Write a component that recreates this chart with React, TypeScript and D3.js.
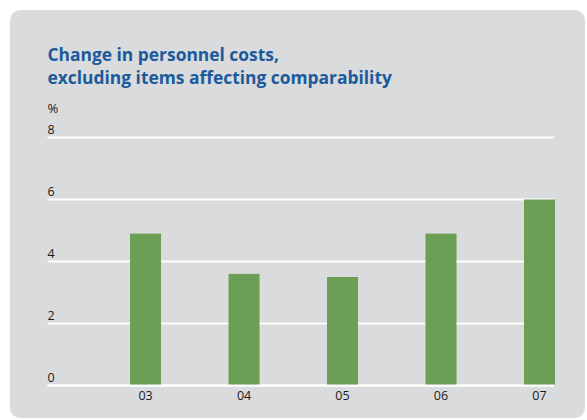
import React from "react";
import * as d3 from "d3";

const categories = ["03", "04", "05", "06", "07"];
const values = [4.9, 3.6, 3.5, 4.9, 6.0];
const yTicks = [0, 2, 4, 6, 8];
const titleLines = ["Change in personnel costs,", "excluding items affecting comparability"];
const unitLabel = "%";

const W = 587;
const H = 420;
const FONT = "'Open Sans', 'DejaVu Sans', sans-serif";

export default function App() {
  const left = 47.5;
  const right = 555;
  const y = d3.scaleLinear().domain([0, 8]).range([385.5, 137.5]);
  const x = d3
    .scaleBand<string>()
    .domain(categories)
    .range([left, right])
    .paddingInner(0.685)
    .paddingOuter(0.419)
    .align(1);

  return (
    <svg
      width={W}
      height={H}
      style={{ position: "absolute", left: 0, top: 0, background: "#fff" }}
    >
      <rect x={10} y={10} width={575} height={408} rx={10} ry={10} fill="#dadbdd" />
      <text fontFamily={FONT} fontWeight={700} fontSize={17.4} fill="#1b5a9c">
        {titleLines.map((t, i) => (
          <tspan key={i} x={47.5} y={61 + i * 22.5}>
            {t}
          </tspan>
        ))}
      </text>
      <text x={47.5} y={112.5} fontFamily={FONT} fontSize={13} fill="#1a1a1a">
        {unitLabel}
      </text>
      {yTicks.map((t) => (
        <g key={t}>
          <line
            x1={left}
            x2={554}
            y1={y(t)}
            y2={y(t)}
            stroke="#ffffff"
            strokeWidth={t === 0 ? 2.5 : 2}
          />
          <text x={47.5} y={y(t) - 4} fontFamily={FONT} fontSize={12.5} fill="#1a1a1a">
            {t}
          </text>
        </g>
      ))}
      {categories.map((c, i) => (
        <rect
          key={c}
          x={x(c)}
          y={y(values[i])}
          width={x.bandwidth()}
          height={y(0) - y(values[i]) - 1}
          fill="#6a9f55"
        />
      ))}
      {categories.map((c) => (
        <text
          key={c}
          x={(x(c) as number) + x.bandwidth() / 2}
          y={400}
          textAnchor="middle"
          fontFamily={FONT}
          fontSize={12.5}
          fill="#1a1a1a"
        >
          {c}
        </text>
      ))}
    </svg>
  );
}
